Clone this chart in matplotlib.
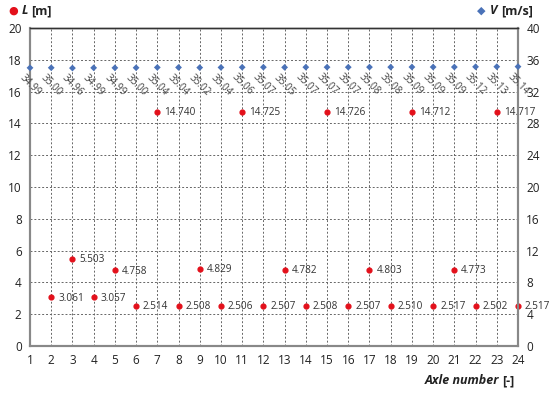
import matplotlib
matplotlib.use("Agg")
import matplotlib.pyplot as plt

axles = list(range(1, 25))
L_axles = list(range(2, 25))
L_values = [3.061, 5.503, 3.057, 4.758, 2.514, 14.740, 2.508, 4.829, 2.506, 14.725,
            2.507, 4.782, 2.508, 14.726, 2.507, 4.803, 2.510, 14.712, 2.517, 4.773,
            2.502, 14.717, 2.517]
V_values = [34.99, 35.00, 34.96, 34.99, 34.99, 35.00, 35.04, 35.04, 35.02, 35.04,
            35.06, 35.07, 35.05, 35.07, 35.07, 35.07, 35.08, 35.08, 35.09, 35.09,
            35.09, 35.12, 35.13, 35.14]

plt.rcParams['font.family'] = ['Open Sans', 'DejaVu Sans']

fig = plt.figure(figsize=(5.5, 3.94), dpi=100)
ax = fig.add_axes([30/550, 1-346/394, 488/550, 318/394])
ax2 = ax.twinx()

ax.set_xlim(1, 24)
ax.set_ylim(0, 20)
ax2.set_ylim(0, 40)
ax.set_xticks(axles)
ax.set_yticks(range(0, 21, 2))
ax2.set_yticks(range(0, 41, 4))
ax.grid(True, linestyle=(0, (2, 2)), color='#666666', linewidth=0.7)
ax.set_axisbelow(True)
ax.tick_params(length=0, labelsize=8.5, colors='#222222', pad=6)
ax2.tick_params(length=0, labelsize=8.5, colors='#222222', pad=6)

for a in (ax, ax2):
    for s in ('left', 'bottom', 'right'):
        a.spines[s].set_color('#888888')
        a.spines[s].set_linewidth(1.5)
    a.spines['top'].set_color('#333333')
    a.spines['top'].set_linewidth(1.0)

ax.scatter(L_axles, L_values, s=12, color='#e3101b', zorder=5, clip_on=False)
for x, v in zip(L_axles, L_values):
    ax.annotate(f"{v:.3f}", (x, v), xytext=(5, -0.5), textcoords='offset points',
                fontsize=7.2, color='#333333', va='center', ha='left')

ax2.scatter(axles, V_values, s=12, marker='D', color='#4a72b8', zorder=5,
            clip_on=False, edgecolors='none')
for x, v in zip(axles, V_values):
    ax2.annotate(f"{v:.2f}", (x, v), xytext=(0, -12.5), textcoords='offset points',
                 fontsize=7.2, color='#444444', rotation=-45,
                 rotation_mode='anchor', va='center', ha='center')

# legends
fig.text(8/550, 1-11/394, "\u25cf", color='#e3101b', fontsize=8, va='center')
fig.text(22/550, 1-11/394, "L", fontsize=9, fontweight='bold', style='italic',
         color='#222222', va='center')
fig.text(31/550, 1-11/394, "[m]", fontsize=9, fontweight='bold',
         color='#222222', va='center')
fig.text(485/550, 1-11/394, "\u25c6", color='#4a72b8', fontsize=8, va='center', ha='right')
fig.text(490/550, 1-11/394, "V", fontsize=9, fontweight='bold', style='italic',
         color='#222222', va='center')
fig.text(501/550, 1-11/394, "[m/s]", fontsize=9, fontweight='bold',
         color='#222222', va='center')

fig.text(499/550, 1-381/394, "Axle number", fontsize=9, fontweight='bold',
         style='italic', color='#222222', va='center', ha='right')
fig.text(502/550, 1-381/394, "[-]", fontsize=9, fontweight='bold',
         color='#222222', va='center', ha='left')

fig.savefig("out.png", dpi=100)
